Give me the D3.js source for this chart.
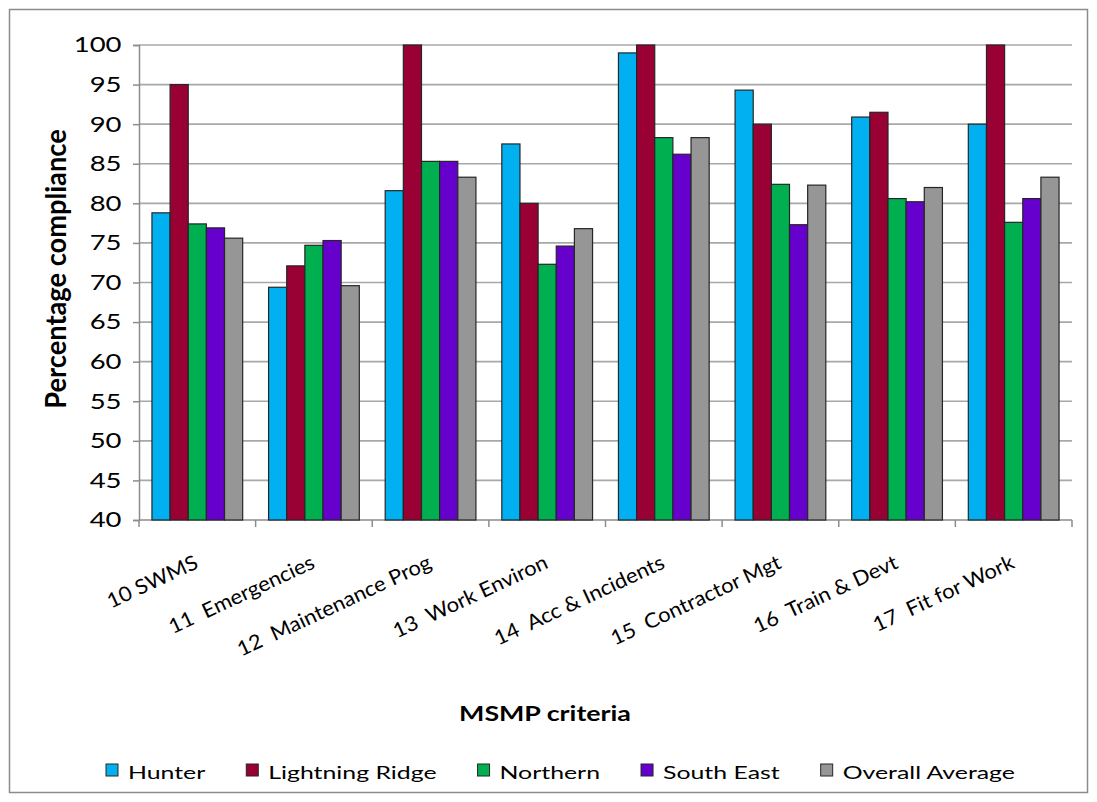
<!DOCTYPE html>
<html>
<head>
<meta charset="utf-8">
<script src="https://cdn.jsdelivr.net/npm/d3@7"></script>
<style>
  html, body { margin: 0; padding: 0; background: #fff; }
  text { font-family: Lato, "Noto Sans", sans-serif; fill: #000; white-space: pre; }
</style>
</head>
<body>
<svg id="chart" width="1097" height="802"></svg>
<script>
// ---- data ----
const categories = ["10 SWMS", "11  Emergencies", "12  Maintenance Prog", "13  Work Environ",
                    "14  Acc & Incidents", "15  Contractor Mgt", "16  Train & Devt", "17  Fit for Work"];
const seriesNames = ["Hunter", "Lightning Ridge", "Northern", "South East", "Overall Average"];
const hunter         = [78.8, 69.4, 81.6, 87.5, 99.0, 94.3, 90.9, 90.0];
const lightningRidge = [95.0, 72.1, 100, 80.0, 100, 90.0, 91.5, 100];
const northern       = [77.4, 74.7, 85.3, 72.3, 88.3, 82.4, 80.6, 77.6];
const southEast      = [76.9, 75.3, 85.3, 74.6, 86.2, 77.3, 80.2, 80.6];
const overallAverage = [75.6, 69.6, 83.3, 76.8, 88.3, 82.3, 82.0, 83.3];
const seriesColors   = ["#00b0f0", "#990033", "#00b050", "#6600cc", "#969696"];
const yTicks = [40, 45, 50, 55, 60, 65, 70, 75, 80, 85, 90, 95, 100];
const xTitle = "MSMP criteria";
const yTitle = "Percentage compliance";

const seriesValues = [hunter, lightningRidge, northern, southEast, overallAverage];

// ---- layout ----
const SX = 1.34; // horizontal stretch of the reference's text
const plot = { left: 139, right: 1072, top: 45, bottom: 520 };
const svg = d3.select("#chart");

// outer border
svg.append("rect").attr("x", 9.5).attr("y", 9.5).attr("width", 1078).attr("height", 783)
  .attr("fill", "#fff").attr("stroke", "#8c8c8c").attr("stroke-width", 1.5);

const y = d3.scaleLinear().domain([40, 100]).range([plot.bottom, plot.top]);
const x0 = d3.scaleBand().domain(categories).range([plot.left, plot.right])
  .paddingInner(0.222).paddingOuter(0.111);
const x1 = d3.scaleBand().domain(seriesNames).range([0, x0.bandwidth()]).padding(0);
const color = d3.scaleOrdinal().domain(seriesNames).range(seriesColors);

// gridlines
svg.append("g").attr("class", "grid")
  .selectAll("line").data(yTicks.filter(t => t > 40)).join("line")
  .attr("x1", plot.left).attr("x2", plot.right)
  .attr("y1", d => y(d)).attr("y2", d => y(d))
  .attr("stroke", "#a8a8a8").attr("stroke-width", 1.6);

// y axis
const yAxis = svg.append("g").attr("transform", `translate(${plot.left},0)`)
  .call(d3.axisLeft(y).tickValues(yTicks).tickSize(6).tickFormat(""));
yAxis.select(".domain").attr("stroke", "#8c8c8c").attr("stroke-width", 1.5);
yAxis.selectAll(".tick line").attr("stroke", "#8c8c8c").attr("stroke-width", 1.5);

svg.append("g").selectAll("text").data(yTicks).join("text")
  .attr("transform", d => `translate(121.5,${y(d)}) scale(${SX},1)`)
  .attr("text-anchor", "end").attr("dy", "0.36em")
  .attr("font-size", 20.5)
  .text(d => d);

// x axis
const xAxisG = svg.append("g").attr("transform", `translate(0,${plot.bottom})`);
xAxisG.append("line").attr("x1", plot.left).attr("x2", plot.right)
  .attr("stroke", "#8c8c8c").attr("stroke-width", 1.5);
const boundaries = categories.map(c => x0(c) - x0.step() * x0.paddingOuter())
  .concat([plot.right]);
xAxisG.selectAll("line.tk").data(boundaries).join("line").attr("class", "tk")
  .attr("x1", d => d).attr("x2", d => d).attr("y1", 0).attr("y2", 7)
  .attr("stroke", "#8c8c8c").attr("stroke-width", 1.5);

// bars
const groups = svg.append("g").selectAll("g").data(categories).join("g")
  .attr("transform", d => `translate(${x0(d)},0)`);
groups.selectAll("rect")
  .data((c, ci) => seriesNames.map((s, si) => ({ s, v: seriesValues[si][ci] })))
  .join("rect")
  .attr("x", d => x1(d.s))
  .attr("y", d => y(d.v))
  .attr("width", x1.bandwidth())
  .attr("height", d => y(40) - y(d.v))
  .attr("fill", d => color(d.s))
  .attr("stroke", "#262626").attr("stroke-width", 1.2);

// x tick labels (rotated)
svg.append("g").selectAll("text").data(categories).join("text")
  .attr("transform", d => `translate(${x0(d) + x0.bandwidth() / 2 - 4},554) rotate(-25) scale(1.07,1)`)
  .attr("text-anchor", "end").attr("dy", "0.72em")
  .attr("font-size", 20.5)
  .text(d => d);

// axis titles
svg.append("text")
  .attr("transform", `translate(545,721) scale(${SX},1)`)
  .attr("text-anchor", "middle").attr("font-weight", "bold").attr("font-size", 20)
  .text(xTitle);

svg.append("text")
  .attr("transform", `translate(66,269) rotate(-90) scale(1.09,1.12)`)
  .attr("text-anchor", "middle").attr("font-weight", "bold").attr("font-size", 25)
  .text(yTitle);

// legend
const LSX = 1.38;
const legend = svg.append("g");
let lx = 106;
seriesNames.forEach((s, i) => {
  const item = legend.append("g").attr("transform", `translate(${lx},764)`);
  item.append("rect").attr("width", 12).attr("height", 12)
    .attr("fill", color(s)).attr("stroke", "#262626").attr("stroke-width", 1);
  const t = item.append("text")
    .attr("transform", `translate(22,15) scale(${LSX},1)`)
    .attr("font-size", 18).text(s);
  const w = t.node().getComputedTextLength() * LSX;
  lx += 22 + w + 41;
});
</script>
</body>
</html>
